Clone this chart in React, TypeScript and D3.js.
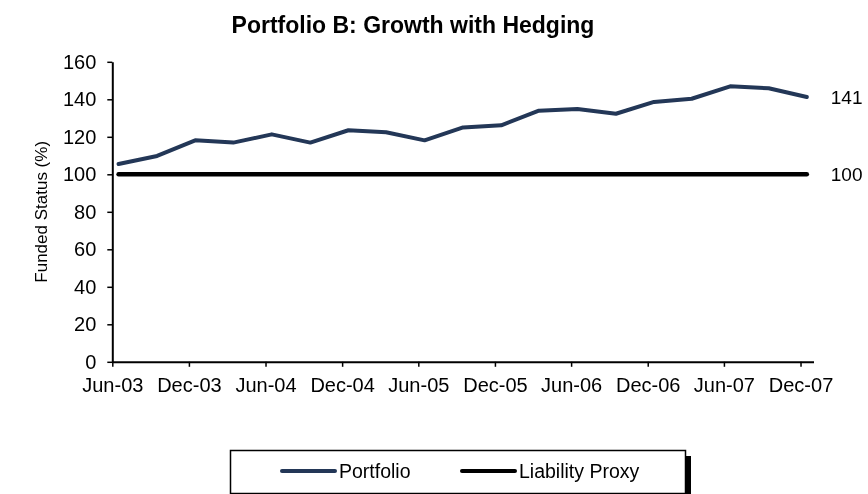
import { useEffect, useRef } from 'react';
import * as d3 from 'd3';

// quarterly observations, Jun-03 .. Dec-07
const quarters = [
  '2003-06', '2003-09', '2003-12', '2004-03', '2004-06', '2004-09', '2004-12',
  '2005-03', '2005-06', '2005-09', '2005-12', '2006-03', '2006-06', '2006-09',
  '2006-12', '2007-03', '2007-06', '2007-09', '2007-12',
];
const portfolio = [
  105.5, 109.8, 118.1, 116.9, 121.3, 116.9, 123.5, 122.4, 118.1, 125.0,
  126.1, 133.9, 134.8, 132.3, 138.6, 140.3, 146.9, 145.9, 141.2,
];
const liabilityProxy = quarters.map(() => 100);
const yTicks = [0, 20, 40, 60, 80, 100, 120, 140, 160];
const xTickMonths = [
  '2003-06', '2003-12', '2004-06', '2004-12', '2005-06',
  '2005-12', '2006-06', '2006-12', '2007-06', '2007-12',
];

const W = 868;
const H = 494;
const FONT = '"Liberation Sans", Arial, sans-serif';
const NAVY = '#233757';

function App() {
  const ref = useRef<SVGSVGElement>(null);

  useEffect(() => {
    const svg = d3.select(ref.current);
    svg.selectAll('*').remove();

    const parseMonth = d3.timeParse('%Y-%m');
    const mid = (s: string) => d3.timeDay.offset(parseMonth(s) as Date, 15);

    const x = d3
      .scaleTime()
      .domain([new Date(2003, 5, 1), new Date(2008, 0, 1)])
      .range([112.3, 813.5]);
    const y = d3.scaleLinear().domain([0, 160]).range([361.8, 61.8]);

    svg
      .append('text')
      .attr('x', 413)
      .attr('y', 33)
      .attr('text-anchor', 'middle')
      .attr('font-family', FONT)
      .attr('font-weight', 'bold')
      .attr('font-size', 23)
      .text('Portfolio B: Growth with Hedging');

    const yAxis = svg
      .append('g')
      .attr('transform', `translate(${x.range()[0]},0)`)
      .call(
        d3.axisLeft(y).tickValues(yTicks).tickSize(5).tickSizeOuter(0).tickPadding(11),
      );
    const xAxis = svg
      .append('g')
      .attr('transform', `translate(0,${y(0)})`)
      .call(
        d3
          .axisBottom(x)
          .tickValues(xTickMonths.map(s => parseMonth(s) as Date))
          .tickFormat(d3.timeFormat('%b-%y') as any)
          .tickSize(5)
          .tickSizeOuter(0)
          .tickPadding(11),
      );
    [yAxis, xAxis].forEach(g => {
      g.select('.domain').attr('stroke', '#000').attr('stroke-width', 2);
      g.selectAll('.tick line').attr('stroke', '#000').attr('stroke-width', 1.5);
      g.selectAll('.tick text')
        .attr('font-family', FONT)
        .attr('font-size', 20)
        .attr('fill', '#000');
    });

    svg
      .append('text')
      .attr('transform', `translate(47,${y(80)}) rotate(-90)`)
      .attr('text-anchor', 'middle')
      .attr('font-family', FONT)
      .attr('font-size', 17)
      .text('Funded Status (%)');

    const line = d3
      .line<number>()
      .x((_, i) => x(mid(quarters[i])))
      .y(d => y(d));

    svg
      .append('path')
      .datum(liabilityProxy)
      .attr('d', line)
      .attr('fill', 'none')
      .attr('stroke', '#000')
      .attr('stroke-width', 4.5)
      .attr('stroke-linecap', 'round');

    svg
      .append('path')
      .datum(portfolio)
      .attr('d', line)
      .attr('fill', 'none')
      .attr('stroke', NAVY)
      .attr('stroke-width', 4)
      .attr('stroke-linecap', 'round')
      .attr('stroke-linejoin', 'round');

    // end labels
    const lastX = x(mid(quarters[quarters.length - 1]));
    [portfolio, liabilityProxy].forEach(series => {
      const v = series[series.length - 1];
      svg
        .append('text')
        .attr('x', lastX + 24)
        .attr('y', y(v))
        .attr('dy', '0.35em')
        .attr('font-family', FONT)
        .attr('font-size', 19)
        .text(d3.format('.0f')(v));
    });

    // legend
    const lg = svg.append('g');
    lg.append('rect')
      .attr('x', 236)
      .attr('y', 456)
      .attr('width', 455)
      .attr('height', 43)
      .attr('fill', '#000');
    lg.append('rect')
      .attr('x', 230.5)
      .attr('y', 450.5)
      .attr('width', 455)
      .attr('height', 43)
      .attr('fill', '#fff')
      .attr('stroke', '#000')
      .attr('stroke-width', 1.5);
    const items = [
      { name: 'Portfolio', color: NAVY, x0: 282 },
      { name: 'Liability Proxy', color: '#000', x0: 462 },
    ];
    items.forEach(it => {
      lg.append('line')
        .attr('x1', it.x0)
        .attr('x2', it.x0 + 53)
        .attr('y1', 471)
        .attr('y2', 471)
        .attr('stroke', it.color)
        .attr('stroke-width', 4)
        .attr('stroke-linecap', 'round');
      lg.append('text')
        .attr('x', it.x0 + 57)
        .attr('y', 471)
        .attr('dy', '0.35em')
        .attr('font-family', FONT)
        .attr('font-size', 19.5)
        .text(it.name);
    });
  }, []);

  return (
    <div style={{ position: 'fixed', left: 0, top: 0 }}>
      <svg ref={ref} width={W} height={H} style={{ display: 'block' }} />
    </div>
  );
}

export default App;
